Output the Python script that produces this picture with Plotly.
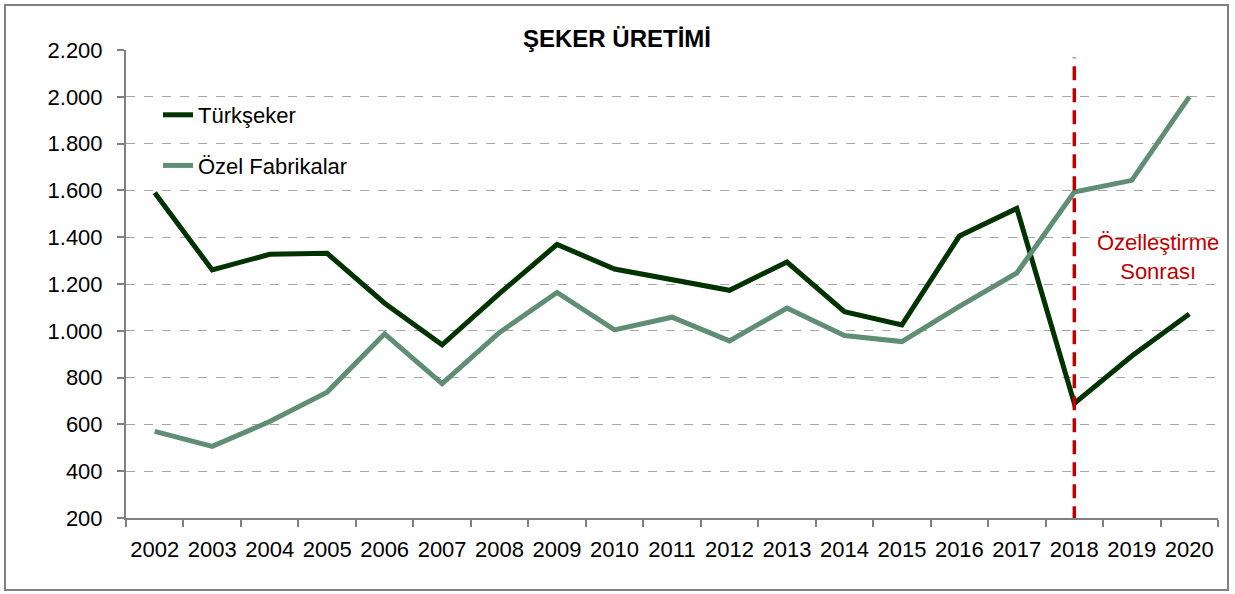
import plotly.graph_objects as go

years = [str(y) for y in range(2002, 2021)]
turkseker = [1590, 1260, 1327, 1331, 1118, 940, 1160, 1369, 1264, 1218, 1173, 1294,
             1082, 1025, 1405, 1523, 690, 892, 1072]
ozel = [570, 506, 612, 738, 987, 774, 993, 1164, 1004, 1058, 957, 1097,
        980, 954, 1104, 1247, 1593, 1643, 2000]
y_ticks = [200, 400, 600, 800, 1000, 1200, 1400, 1600, 1800, 2000, 2200]
y_tick_labels = ["200", "400", "600", "800", "1.000", "1.200", "1.400", "1.600", "1.800", "2.000", "2.200"]

FONT = "Liberation Sans, Arial, sans-serif"

fig = go.Figure()
fig.add_trace(go.Scatter(x=years, y=turkseker, mode="lines", name="Türkşeker",
                         line=dict(color="#003300", width=5), legendgroup="a"))
fig.add_trace(go.Scatter(x=years, y=ozel, mode="lines", name="Özel Fabrikalar",
                         line=dict(color="#5F8E74", width=5), legendgroup="b"))

W, H = 1235, 594
L, R, T, B = 126, 17, 50, 76
pw, ph = W - L - R, H - T - B

def px(x):
    return (x - L) / pw

def py(y):
    return (H - B - y) / ph

fig.update_layout(
    width=W, height=H,
    margin=dict(l=L, r=R, t=T, b=B),
    paper_bgcolor="white", plot_bgcolor="white",
    font=dict(family=FONT, size=22, color="black"),
    showlegend=True,
    legend=dict(x=px(158), y=py(94), xanchor="left", yanchor="top",
                bgcolor="rgba(0,0,0,0)", tracegroupgap=19,
                font=dict(size=22), traceorder="grouped"),
    xaxis=dict(type="category", range=[-0.5, 18.5], tickson="boundaries",
               showline=True, linecolor="#808080", linewidth=2,
               ticks="outside", ticklen=7, tickcolor="#808080", tickwidth=2,
               showgrid=False, tickfont=dict(size=22), ticklabelstandoff=11,
               tickangle=0, automargin=False),
    yaxis=dict(range=[200, 2200], tickvals=y_ticks, ticktext=y_tick_labels,
               showline=True, linecolor="#808080", linewidth=2,
               ticks="outside", ticklen=7, tickcolor="#808080", tickwidth=2,
               showgrid=True, gridcolor="#A6A6A6", griddash="dash", gridwidth=1.3,
               zeroline=False, tickfont=dict(size=22), ticklabelstandoff=10,
               automargin=False),
)

# red dashed vertical line at 2018
fig.add_shape(type="line", xref="x", yref="y", x0=16, x1=16, y0=190, y1=2168,
              line=dict(color="#C00000", width=3.5, dash="14px,8px"))

fig.add_annotation(xref="x", yref="y", x=17.45, y=1315, showarrow=False,
                   text="Özelleştirme<br>Sonrası",
                   font=dict(color="#C00000", size=22, family=FONT))

# title
fig.add_annotation(xref="paper", yref="paper", x=px(617), y=py(38), showarrow=False,
                   text="<b>ŞEKER ÜRETİMİ</b>", font=dict(size=24, family=FONT, color="black"),
                   xanchor="center", yanchor="middle")

# outer border
fig.add_shape(type="rect", xref="paper", yref="paper",
              x0=px(5), x1=px(1228), y0=py(590), y1=py(5),
              line=dict(color="#808080", width=2), fillcolor="rgba(0,0,0,0)", layer="below")

fig.write_html("out.html", config={"displayModeBar": False},
               post_script="document.body.style.margin='0px';")
